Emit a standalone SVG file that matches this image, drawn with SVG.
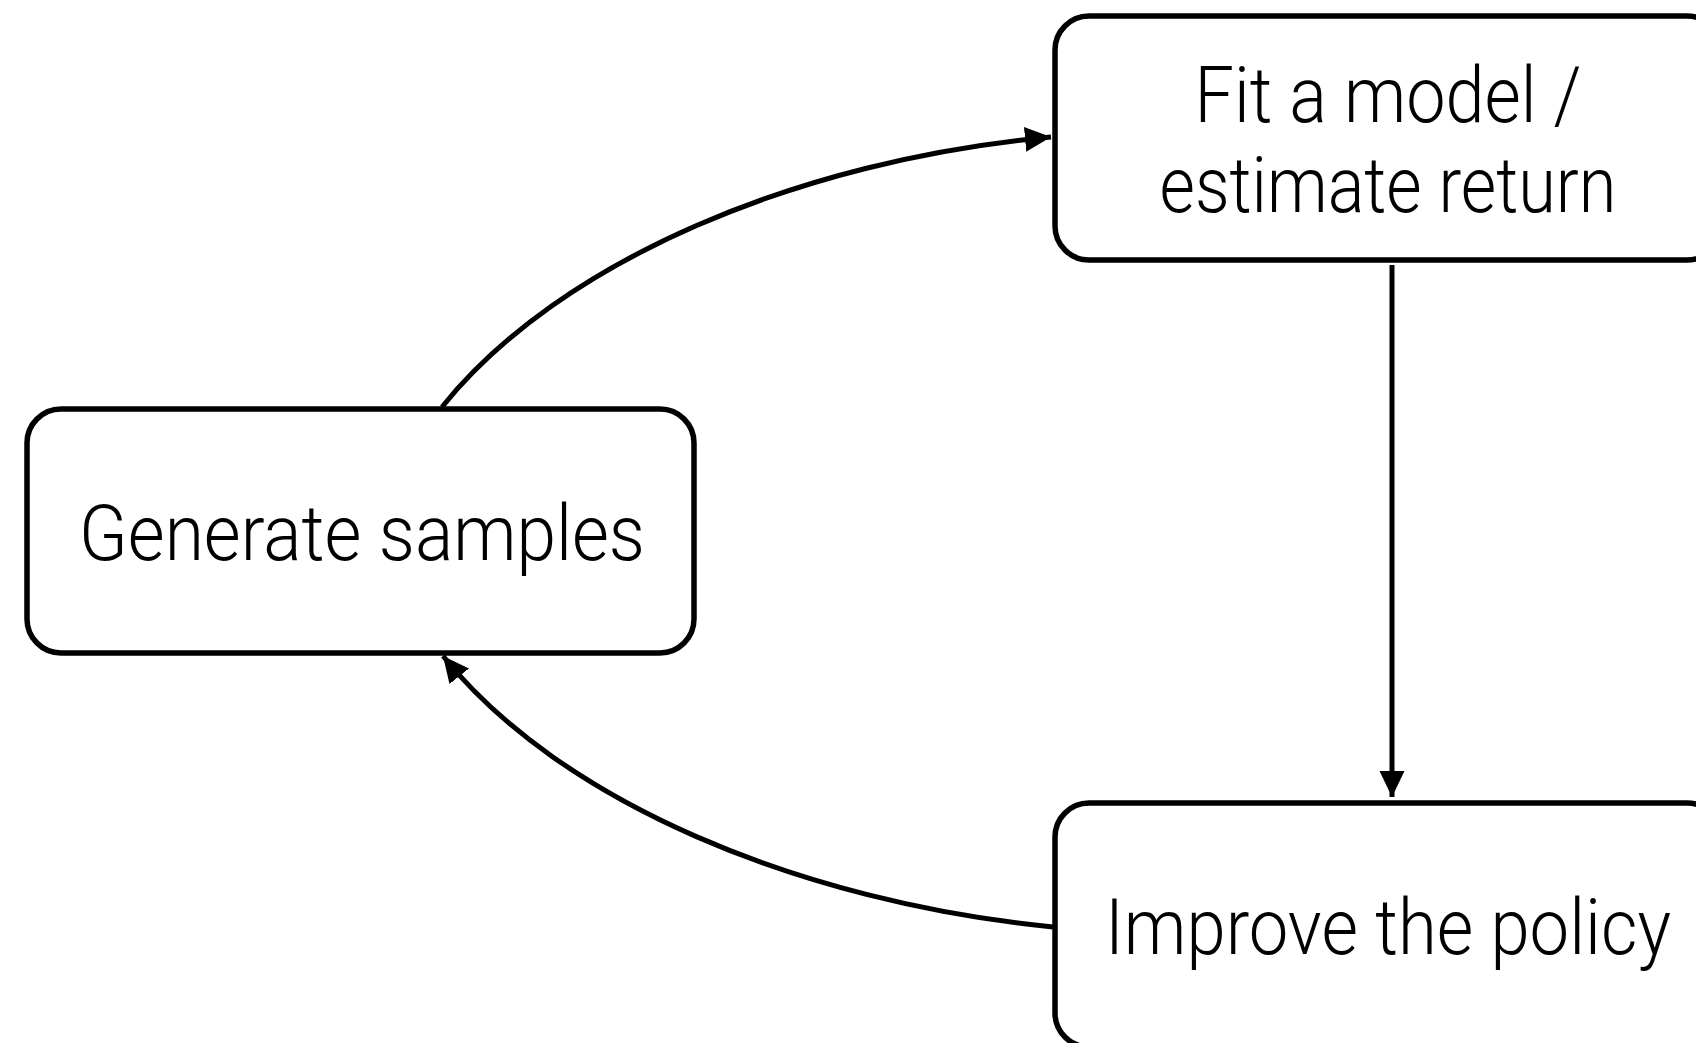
<svg xmlns="http://www.w3.org/2000/svg" width="1696" height="1043" viewBox="0 0 1696 1043">
  <style>
    .box { fill: #ffffff; stroke: #000000; stroke-width: 5.5; }
    .label { font-family: Roboto, "Liberation Sans", sans-serif; font-weight: 300; font-size: 78px; fill: #000000; text-anchor: middle; }
    .edge { fill: none; stroke: #000000; stroke-width: 5; marker-end: url(#arrow); }
  </style>
  <defs>
    <marker id="arrow" markerUnits="userSpaceOnUse" markerWidth="28" markerHeight="26" refX="26" refY="12.5" orient="auto">
      <path d="M0,0 L26,12.5 L0,25 z" fill="#000000"/>
    </marker>
  </defs>
  <rect width="1696" height="1043" fill="#ffffff"/>

  <g id="node-generate">
    <rect class="box" x="27" y="409" width="667" height="244" rx="34" ry="34"/>
    <text class="label" x="362" y="560" textLength="566" lengthAdjust="spacingAndGlyphs">Generate samples</text>
  </g>

  <g id="node-fit">
    <rect class="box" x="1055" y="16" width="666" height="244" rx="34" ry="34"/>
    <text class="label" x="1388" y="122" textLength="387" lengthAdjust="spacingAndGlyphs">Fit a model /</text>
    <text class="label" x="1388" y="212" textLength="457" lengthAdjust="spacingAndGlyphs">estimate return</text>
  </g>

  <g id="node-improve">
    <rect class="box" x="1055" y="803" width="666" height="244" rx="34" ry="34"/>
    <text class="label" x="1388" y="954" textLength="566" lengthAdjust="spacingAndGlyphs">Improve the policy</text>
  </g>

  <g id="connectors">
    <path class="edge" d="M442,407 C560,260 800,160 1051,137"/>
    <path class="edge" d="M1392,265 L1392,797"/>
    <path class="edge" d="M1053,927 C800,902 560,802 443,656"/>
  </g>
</svg>
